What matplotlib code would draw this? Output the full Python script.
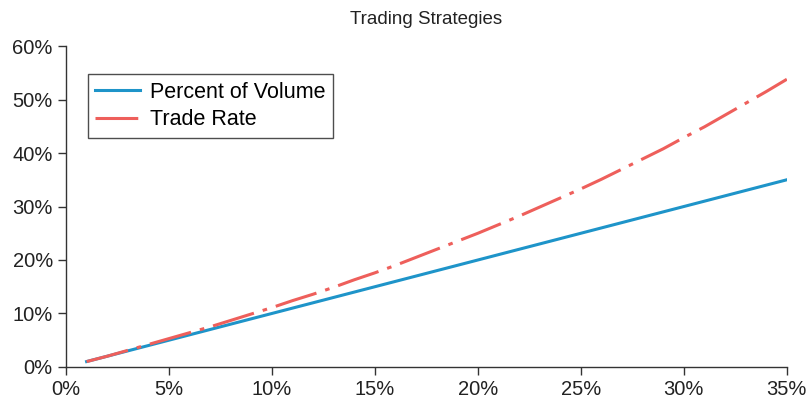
import matplotlib
matplotlib.use("Agg")
import matplotlib.pyplot as plt
from matplotlib.ticker import FuncFormatter

# participation rate (% of volume), x axis
pov = [1, 2, 3, 4, 5, 6, 7, 8, 9, 10, 11, 12, 13, 14, 15, 16, 17, 18,
       19, 20, 21, 22, 23, 24, 25, 26, 27, 28, 29, 30, 31, 32, 33, 34, 35]
percent_of_volume = [1, 2, 3, 4, 5, 6, 7, 8, 9, 10, 11, 12, 13, 14, 15, 16, 17, 18,
                     19, 20, 21, 22, 23, 24, 25, 26, 27, 28, 29, 30, 31, 32, 33, 34, 35]
trade_rate = [1.0, 2.0, 3.1, 4.2, 5.3, 6.4, 7.5, 8.7, 9.9, 11.1, 12.4, 13.6,
              14.9, 16.3, 17.6, 19.0, 20.5, 22.0, 23.5, 25.0, 26.6, 28.2, 29.9,
              31.6, 33.3, 35.1, 37.0, 38.9, 40.8, 42.9, 44.9, 47.1, 49.3, 51.5, 53.8]

xticks = [0, 5, 10, 15, 20, 25, 30, 35]
yticks = [0, 10, 20, 30, 40, 50, 60]

plt.rcParams['font.family'] = ['Liberation Sans', 'DejaVu Sans']

fig = plt.figure(figsize=(8.09, 4.01), dpi=100)
ax = fig.add_axes([0.0816, 0.085, 0.891, 0.8])

ax.plot(pov, percent_of_volume, color='#1e94c9', lw=2.2, label='Percent of Volume')
ax.plot(pov, trade_rate, color='#ee5f5b', lw=2.2, dashes=(14, 3, 1.5, 3),
        label='Trade Rate')

ax.set_xlim(0, 35)
ax.set_ylim(0, 60)
ax.set_xticks(xticks)
ax.set_yticks(yticks)
pct = FuncFormatter(lambda v, p: f'{v:.0f}%')
ax.xaxis.set_major_formatter(pct)
ax.yaxis.set_major_formatter(pct)

for s in ['top', 'right']:
    ax.spines[s].set_visible(False)
for s in ['left', 'bottom']:
    ax.spines[s].set_color('#333333')
    ax.spines[s].set_linewidth(1.0)
ax.tick_params(direction='out', length=6, width=1.0, color='#333333',
               labelsize=14.5, labelcolor='#222222')

ax.set_title('Trading Strategies', fontsize=13.5, color='#222222', pad=16)

leg = ax.legend(loc='upper left', bbox_to_anchor=(0.03, 0.912), fontsize=15.5,
                frameon=True, fancybox=False, handlelength=2.1,
                borderpad=0.35, labelspacing=0.3, handletextpad=0.45,
                borderaxespad=0)
leg.get_frame().set_edgecolor('#222222')
leg.get_frame().set_linewidth(1.0)

fig.savefig('out.png', dpi=100)
